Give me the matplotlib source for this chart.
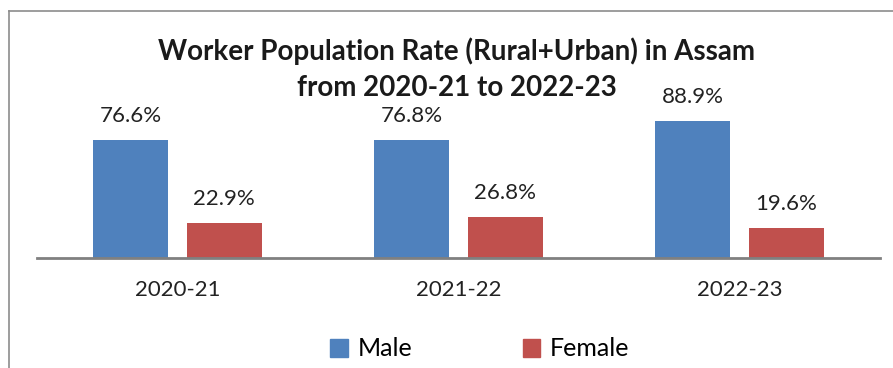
import matplotlib.pyplot as plt
import numpy as np
from matplotlib.lines import Line2D
from matplotlib.patches import Patch

years = ["2020-21", "2021-22", "2022-23"]
male = [76.6, 76.8, 88.9]
female = [22.9, 26.8, 19.6]

plt.rcParams['font.family'] = ['Lato', 'DejaVu Sans']

blue = "#4F81BD"
red = "#C0504D"

fig = plt.figure(figsize=(8.93, 3.68), dpi=100)
ax = fig.add_axes([37 / 893, 110 / 368, 843 / 893, 154 / 368])

x = np.arange(len(years))
w = 0.267
off = 0.166
b1 = ax.bar(x - off, male, w, color=blue)
b2 = ax.bar(x + off, female, w, color=red)

for bars, vals in ((b1, male), (b2, female)):
    for r, v in zip(bars, vals):
        ax.text(r.get_x() + r.get_width() / 2, v + 9, f"{v}%",
                ha="center", va="bottom", fontsize=16, color="#222222")

ax.set_xlim(-0.5, 2.5)
ax.set_ylim(0, 100)
ax.set_xticks(x)
ax.set_xticklabels(years, fontsize=16, color="#222222")
ax.tick_params(axis="x", length=0, pad=16)
ax.set_yticks([])
for s in ("top", "right", "left"):
    ax.spines[s].set_visible(False)
ax.spines["bottom"].set_color("#808080")
ax.spines["bottom"].set_linewidth(2)

fig.text(457 / 893, 1 - 51 / 368, "Worker Population Rate (Rural+Urban) in Assam",
         ha="center", va="center", fontsize=20, fontweight="bold", color="#1a1a1a")
fig.text(457 / 893, 1 - 88 / 368, "from 2020-21 to 2022-23",
         ha="center", va="center", fontsize=20, fontweight="bold", color="#1a1a1a")

handles = [Patch(color=blue, label="Male"), Patch(color=red, label="Female")]
fig.legend(handles=handles, loc="center", bbox_to_anchor=(480 / 893, 1 - 349 / 368),
           ncol=2, frameon=False, fontsize=18, handlelength=0.7, handleheight=0.7,
           handletextpad=0.4, columnspacing=4.4)

# chart border (top and left visible in crop)
fig.add_artist(Line2D([9 / 893, 1], [1 - 11 / 368, 1 - 11 / 368], color="#8c8c8c", lw=1.2))
fig.add_artist(Line2D([9 / 893, 9 / 893], [0, 1 - 11 / 368], color="#8c8c8c", lw=1.2))

fig.savefig("out.png", dpi=100)
